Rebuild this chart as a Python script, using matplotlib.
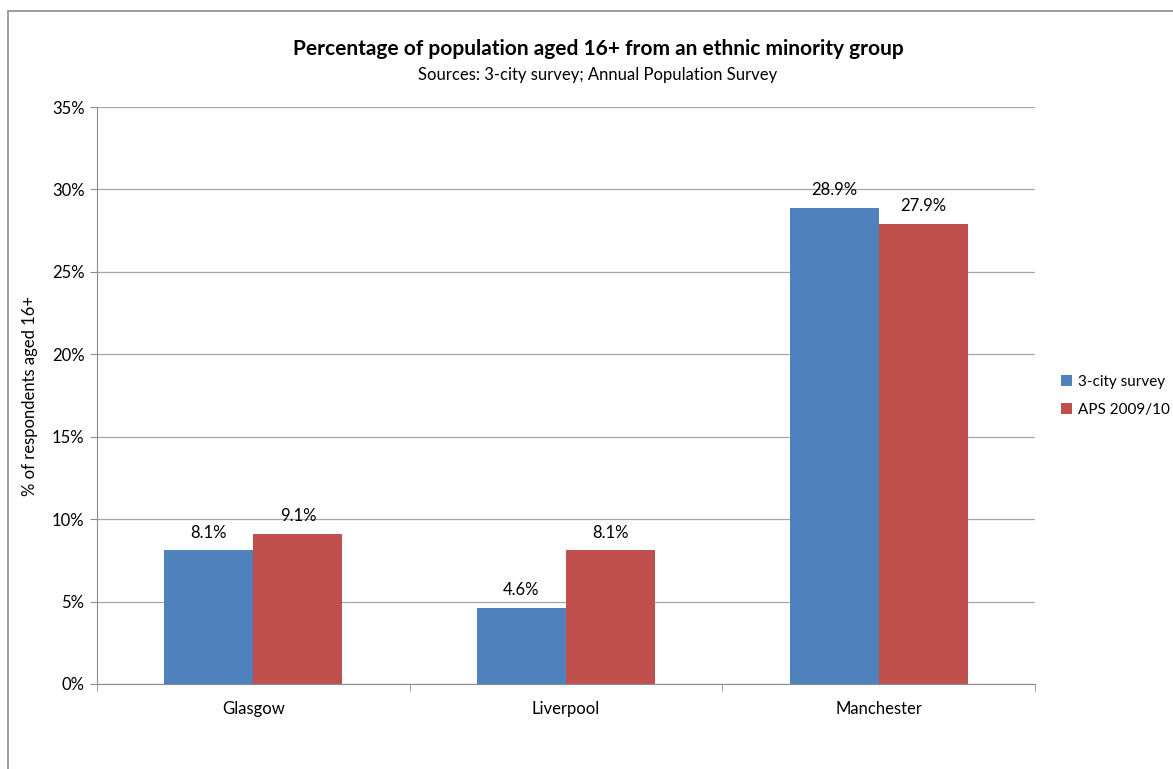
import matplotlib.pyplot as plt
import matplotlib.patches as mpatches
import numpy as np

plt.rcParams['font.family'] = ['Lato', 'DejaVu Sans']

cities = ['Glasgow', 'Liverpool', 'Manchester']
survey = [8.1, 4.6, 28.9]
aps = [9.1, 8.1, 27.9]
series_names = ['3-city survey', 'APS 2009/10']
colors = ['#4F81BD', '#C0504D']

fig = plt.figure(figsize=(11.73, 7.69), dpi=100)
ax = fig.add_axes([97 / 1173, 1 - 684 / 769, 938 / 1173, 577 / 769])

# chart area outline (only left/top edges visible in the original)
fig.patches.append(mpatches.Rectangle((8 / 1173, -0.1), 1.2, 1 - 11 / 769 + 0.1,
                                      transform=fig.transFigure, fill=False,
                                      edgecolor='#8c8c8c', linewidth=1.2))

x = np.arange(len(cities))
w = 0.285
b1 = ax.bar(x - w / 2, survey, w, color=colors[0], label=series_names[0])
b2 = ax.bar(x + w / 2, aps, w, color=colors[1], label=series_names[1])

for bars, vals in ((b1, survey), (b2, aps)):
    for r, v in zip(bars, vals):
        ax.text(r.get_x() + r.get_width() / 2, v + 0.6, f'{v:.1f}%',
                ha='center', va='bottom', fontsize=12)

ax.set_xlim(-0.5, 2.5)
ax.set_ylim(0, 35)
ax.set_yticks(np.arange(0, 36, 5))
ax.set_yticklabels([f'{t}%' for t in range(0, 36, 5)], fontsize=12)
ax.set_xticks(x)
ax.set_xticklabels(cities, fontsize=12)
ax.tick_params(axis='x', which='major', length=0, pad=12)
ax.set_xticks([-0.5, 0.5, 1.5, 2.5], minor=True)
ax.tick_params(axis='x', which='minor', length=5, color='#8c8c8c', direction='out')
ax.tick_params(axis='y', length=5, color='#8c8c8c', direction='out', pad=4)

ax.yaxis.grid(True, color='#a6a6a6', linewidth=0.9)
ax.set_axisbelow(True)
for s in ('top', 'right'):
    ax.spines[s].set_visible(False)
for s in ('left', 'bottom'):
    ax.spines[s].set_color('#8c8c8c')

ax.set_ylabel('% of respondents aged 16+', fontsize=12, labelpad=10)

fig.text(598 / 1173, 1 - 49 / 769, 'Percentage of population aged 16+ from an ethnic minority group',
         ha='center', va='center', fontsize=15, fontweight='bold')
fig.text(598 / 1173, 1 - 75 / 769, 'Sources: 3-city survey; Annual Population Survey',
         ha='center', va='center', fontsize=12)

fig.legend(handles=[b1, b2], labels=series_names, loc='center left',
           bbox_to_anchor=(1055 / 1173, 1 - 396 / 769), frameon=False,
           fontsize=11, handlelength=0.7, handleheight=0.7, handletextpad=0.4,
           labelspacing=0.9, borderaxespad=0)

fig.savefig('out.png', dpi=100, facecolor='white')
